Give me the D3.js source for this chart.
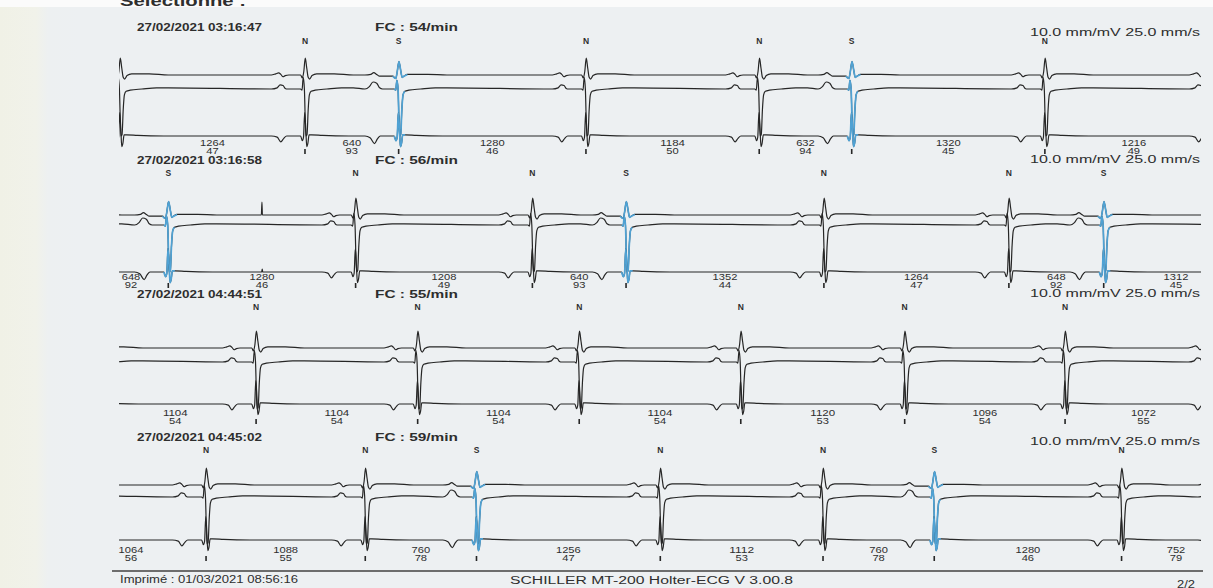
<!DOCTYPE html>
<html>
<head>
<meta charset="utf-8">
<script src="https://cdn.jsdelivr.net/npm/d3@7"></script>
<style>
  body { margin: 0; background: #edf0f2; }
  svg { display: block; }
  text { font-family: "Liberation Sans", Arial, sans-serif; fill: #2e2e2e; }
</style>
</head>
<body>
<div id="chart"></div>
<script>
var svgWidth = 1213;
var svgHeight = 588;

// strip header data
var recordTimes = ["27/02/2021 03:16:47", "27/02/2021 03:16:58", "27/02/2021 04:44:51", "27/02/2021 04:45:02"];
var heartRates = [54, 56, 55, 59];

// beat classes per strip (N = normal, S = supraventricular)
var beatTypes = [
  ["N", "S", "N", "N", "S", "N"],
  ["S", "N", "N", "S", "N", "N", "S"],
  ["N", "N", "N", "N", "N", "N"],
  ["N", "N", "S", "N", "N", "S", "N"]
];

// RR intervals (ms) and instant rates (bpm), first one is the interval before the first labelled beat
var rrMs = [
  [1264, 640, 1280, 1184, 632, 1320, 1216],
  [648, 1280, 1208, 640, 1352, 1264, 648, 1312],
  [1104, 1104, 1104, 1104, 1120, 1096, 1072],
  [1064, 1088, 760, 1256, 1112, 760, 1280, 752]
];
var rrBpm = [
  [47, 93, 46, 50, 94, 45, 49],
  [92, 46, 49, 93, 44, 47, 92, 45],
  [54, 54, 54, 54, 53, 54, 55],
  [56, 55, 78, 47, 53, 78, 46, 79]
];

// time of the first labelled beat from the strip start (ms)
var firstBeatMs = [1264, 330, 930, 588];
var stripMs = 7380;

// beat shapes: [ms from R, mV] for the 3 leads
var normalBeat = [
  [[-230, 0], [-200, 0.02], [-180, 0.035], [-165, 0.01], [-150, -0.03], [-135, -0.01], [-110, 0], [-30, 0], [-18, -0.05], [-8, 0.06], [2, 0.29], [12, 0.12], [22, -0.04], [32, -0.07], [48, -0.01], [80, 0.02], [200, 0.02], [330, 0]],
  [[-230, 0], [-190, 0.02], [-170, 0.07], [-150, 0.06], [-135, 0.01], [-120, 0], [-30, 0], [-20, -0.02], [-12, 0.2], [-4, 0], [6, -0.8], [14, -0.78], [22, -0.35], [30, -0.1], [42, -0.04], [70, -0.02], [150, 0], [250, 0.02], [330, 0.02]],
  [[-230, 0], [-190, -0.02], [-165, -0.1], [-145, -0.04], [-125, 0], [-30, 0], [-18, -0.08], [-10, -0.02], [-2, 0.4], [6, 0.1], [12, -0.18], [20, -0.12], [28, 0.02], [45, 0.02], [120, 0.01], [300, 0]]
];
var supraBeat = [
  [[-230, 0], [-190, 0.01], [-170, 0.04], [-150, 0.01], [-130, -0.02], [-40, -0.02], [-20, -0.06], [-10, 0.05], [2, 0.23], [14, 0.08], [24, -0.04], [36, -0.02], [60, 0.01], [200, 0.01], [330, 0]],
  [[-230, 0], [-200, 0.04], [-175, 0.12], [-150, 0.1], [-130, 0.02], [-110, 0], [-30, 0], [-20, -0.02], [-12, 0.15], [-4, 0], [6, -0.8], [14, -0.78], [22, -0.35], [30, -0.1], [42, -0.04], [70, -0.02], [150, 0], [250, 0.02], [330, 0.02]],
  [[-230, 0], [-195, -0.03], [-165, -0.13], [-145, -0.05], [-125, 0], [-30, 0], [-18, -0.08], [-10, -0.02], [-2, 0.4], [6, 0.1], [12, -0.18], [20, -0.12], [28, 0.02], [45, 0.02], [120, 0.01], [300, 0]]
];

// stray spikes on strip 2
var artifacts = [
  { strip: 1, lead: 0, t: 970, mv: 0.22 },
  { strip: 1, lead: 2, t: 972, mv: 0.05 }
];

// layout
var headerY = [31, 164, 298, 441];
var scaleY = [36, 163, 297, 445];
var labelY = [44, 176, 310, 453];
var leadY = [[75, 89, 136], [215, 225, 272], [348, 362, 404], [485, 497, 540]];
var rrY = [146, 280, 416, 553];
var pxPerMv = 58.5;
var blue = "#4fa2d4";
var ink = "#262626";

var svg = d3.select("#chart")
  .append("svg")
  .attr("width", svgWidth)
  .attr("height", svgHeight);

// paper
var defs = svg.append("defs");
var grad = defs.append("linearGradient")
  .attr("id", "paper")
  .attr("gradientUnits", "userSpaceOnUse")
  .attr("x1", 0).attr("x2", 80).attr("y1", 0).attr("y2", 0);
grad.append("stop").attr("offset", "0").attr("stop-color", "#f0f1e6");
grad.append("stop").attr("offset", "0.45").attr("stop-color", "#f1f2ea");
grad.append("stop").attr("offset", "0.6").attr("stop-color", "#edf0f1");
grad.append("stop").attr("offset", "1").attr("stop-color", "#edf0f2");
svg.append("rect").attr("width", svgWidth).attr("height", svgHeight).attr("fill", "url(#paper)");
svg.append("rect").attr("width", svgWidth).attr("height", 7).attr("fill", "#fbfbfb");

var xScale = d3.scaleLinear().domain([0, stripMs]).range([120, 1200]);

function stretchText(g, x, y, str, size, weight, len, anchor) {
  var t = g.append("text")
    .attr("x", x)
    .attr("y", y)
    .attr("font-size", size)
    .attr("font-weight", weight)
    .attr("text-anchor", anchor || "start")
    .text(str);
  if (len) t.attr("textLength", len).attr("lengthAdjust", "spacingAndGlyphs");
  return t;
}

stretchText(svg, 120, 6, "Sélectionné :", 15, "bold", 126);

recordTimes.forEach(function (rec, s) {
  var g = svg.append("g");

  stretchText(g, 137, headerY[s], rec, 10, "bold", 125);
  stretchText(g, 375, headerY[s], "FC : " + heartRates[s] + "/min", 10, "bold", 83);
  stretchText(g, 1200, scaleY[s], "10.0 mm/mV  25.0 mm/s", 10, "normal", 170, "end");

  // beat times
  var beats = [];
  var t = firstBeatMs[s];
  beats.push({ t: t - rrMs[s][0], type: "N", label: false });
  beatTypes[s].forEach(function (b, i) {
    if (i > 0) t += rrMs[s][i];
    beats.push({ t: t, type: b, label: true });
  });
  beats.push({ t: t + rrMs[s][rrMs[s].length - 1], type: "N", label: false });

  // build each lead from beat shapes
  var clipId = "clip" + s;
  defs.append("clipPath").attr("id", clipId)
    .append("rect")
    .attr("x", 119).attr("y", leadY[s][0] - 40)
    .attr("width", 1082).attr("height", leadY[s][2] - leadY[s][0] + 60);

  var traces = g.append("g").attr("clip-path", "url(#" + clipId + ")");

  [0, 1, 2].forEach(function (lead) {
    var yScale = d3.scaleLinear()
      .domain([-1, 1])
      .range([leadY[s][lead] + pxPerMv, leadY[s][lead] - pxPerMv]);

    var pts = [[-1500, 0]];
    var blueRuns = [];
    beats.forEach(function (b, j) {
      var next = j < beats.length - 1 ? beats[j + 1].t - b.t : 2000;
      var shape = (b.type === "S" ? supraBeat : normalBeat)[lead];
      var run = [];
      shape.forEach(function (p) {
        if (p[0] <= next - 260) pts.push([b.t + p[0], p[1]]);
        if (b.type === "S" && p[0] >= -45 && p[0] <= 60) run.push([b.t + p[0], p[1]]);
      });
      if (run.length) blueRuns.push(run);
    });
    artifacts.filter(function (a) { return a.strip === s && a.lead === lead; })
      .forEach(function (a) {
        pts.push([a.t - 4, 0], [a.t, a.mv], [a.t + 3, 0]);
      });
    pts.push([stripMs + 1500, 0]);
    pts.sort(function (a, b) { return a[0] - b[0]; });

    var line = d3.line()
      .x(function (d) { return xScale(d[0]); })
      .y(function (d) { return yScale(d[1]); })
      .curve(d3.curveMonotoneX);

    traces.append("path")
      .attr("d", line(pts))
      .attr("fill", "none")
      .attr("stroke", ink)
      .attr("stroke-width", 1.2)
      .attr("stroke-linejoin", "round");

    blueRuns.forEach(function (run) {
      traces.append("path")
        .attr("d", line(run))
        .attr("fill", "none")
        .attr("stroke", blue)
        .attr("stroke-width", 1.7)
        .attr("stroke-linejoin", "round");
    });
  });

  // beat labels and markers
  var labelled = beats.filter(function (b) { return b.label; });
  g.selectAll(".beat")
    .data(labelled)
    .enter()
    .append("text")
    .attr("x", function (d) { return xScale(d.t); })
    .attr("y", labelY[s])
    .attr("text-anchor", "middle")
    .attr("font-size", 8.5)
    .attr("font-weight", "bold")
    .attr("fill", "#333")
    .text(function (d) { return d.type; });

  g.selectAll(".mark")
    .data(labelled)
    .enter()
    .append("rect")
    .attr("x", function (d) { return xScale(d.t) - 0.8; })
    .attr("y", rrY[s] + 3)
    .attr("width", 1.6)
    .attr("height", 5)
    .attr("fill", ink);

  // RR labels between beats
  rrMs[s].forEach(function (rr, i) {
    var mid = xScale((beats[i].t + beats[i + 1].t) / 2);
    mid = Math.max(131, Math.min(1176, mid));
    var a = String(rr), b = String(rrBpm[s][i]);
    stretchText(g, mid, rrY[s], a, 8.5, "normal", a.length * 6.2, "middle");
    stretchText(g, mid, rrY[s] + 8, b, 8.5, "normal", b.length * 6.2, "middle");
  });
});

// footer
svg.append("line")
  .attr("x1", 112).attr("x2", 1203)
  .attr("y1", 571).attr("y2", 571)
  .attr("stroke", "#6d6d6d").attr("stroke-width", 2);
stretchText(svg, 120, 583, "Imprimé : 01/03/2021 08:56:16", 10, "normal", 178);
stretchText(svg, 510, 584, "SCHILLER MT-200 Holter-ECG V 3.00.8", 10, "normal", 283);
stretchText(svg, 1177, 588, "2/2", 10, "normal", 18);
</script>
</body>
</html>
